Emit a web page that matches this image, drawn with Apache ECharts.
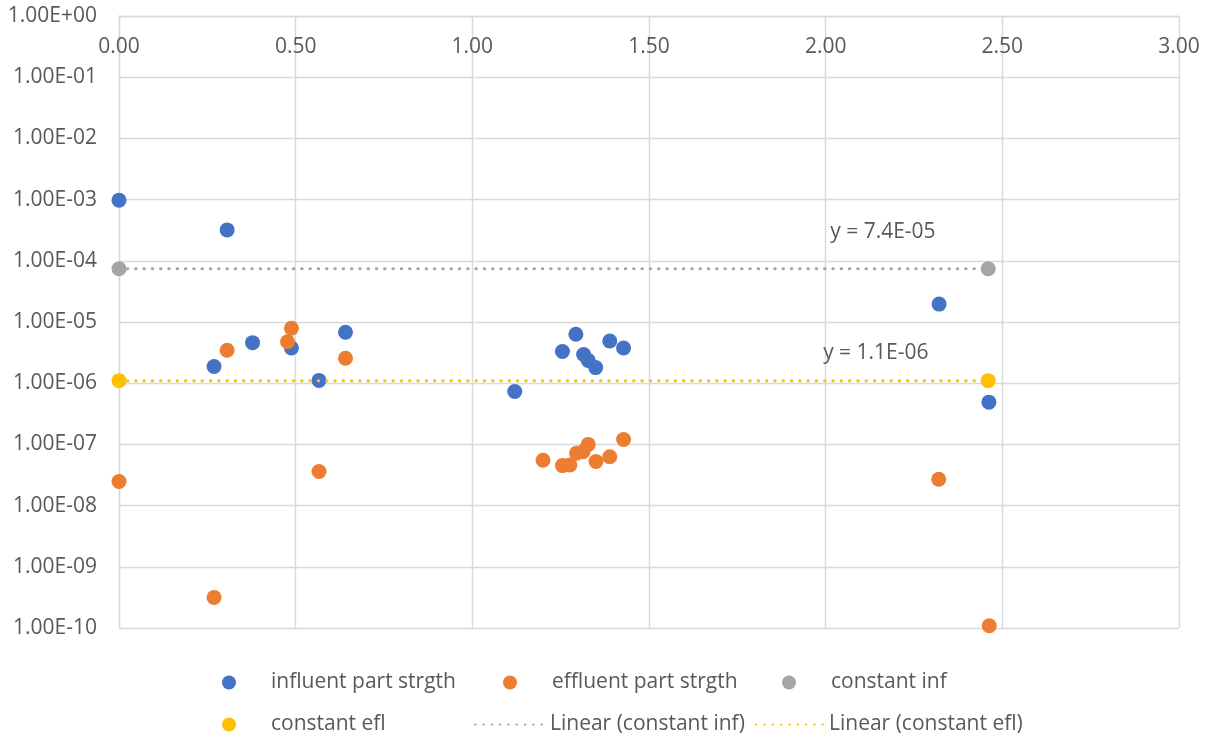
<!DOCTYPE html>
<html>
<head>
<meta charset="utf-8">
<script src="https://cdn.jsdelivr.net/npm/echarts@6/dist/echarts.min.js"></script>
<style>html,body{margin:0;padding:0;background:#fff}#c{width:1213px;height:742px}</style>
</head>
<body>
<div id="c"></div>
<script>
// ---- data ----
const influent = [
  [0.000, 9.8e-4], [0.306, 3.2e-4], [0.269, 1.87e-6], [0.378, 4.6e-6], [0.488, 3.75e-6],
  [0.566, 1.11e-6], [0.641, 6.8e-6], [1.120, 7.3e-7], [1.255, 3.3e-6], [1.293, 6.3e-6],
  [1.315, 2.95e-6], [1.328, 2.36e-6], [1.349, 1.8e-6], [1.389, 4.9e-6], [1.428, 3.75e-6],
  [2.321, 1.96e-5], [2.462, 4.9e-7]
];
const effluent = [
  [0.000, 2.48e-8], [0.269, 3.16e-10], [0.306, 3.45e-6], [0.477, 4.75e-6], [0.488, 7.9e-6],
  [0.566, 3.6e-8], [0.641, 2.55e-6], [1.200, 5.5e-8], [1.255, 4.5e-8], [1.276, 4.6e-8],
  [1.295, 7.2e-8], [1.313, 7.6e-8], [1.328, 1.0e-7], [1.350, 5.25e-8], [1.389, 6.3e-8],
  [1.428, 1.2e-7], [2.320, 2.7e-8], [2.463, 1.09e-10]
];
const constInf = [[0, 7.4e-5], [2.46, 7.4e-5]];
const constEfl = [[0, 1.1e-6], [2.46, 1.1e-6]];
const seriesNames = ['influent part strgth', 'effluent part strgth', 'constant inf', 'constant efl',
  'Linear (constant inf)', 'Linear (constant efl)'];
const trendLabels = ['y = 7.4E-05', 'y = 1.1E-06'];
const trendLabelAt = [[2.162, 2.9e-4], [2.142, 3.08e-6]];
const xTicks = [0, 0.5, 1, 1.5, 2, 2.5, 3];

// ---- chart ----
const FONT = 'Open Sans';
const FS = 21;
const TXT = '#595959';
const GRID = '#D9D9D9';
const colors = ['#4472C4', '#ED7D31', '#A5A5A5', '#FFC000'];

function expFmt(v) {
  const e = Math.round(Math.log10(v));
  const a = Math.abs(e);
  return '1.00E' + (e < 0 ? '-' : '+') + (a < 10 ? '0' + a : '' + a);
}

const chart = echarts.init(document.getElementById('c'), null, {renderer: 'canvas'});
function dotLegend(name, left, top) {
  return {
    data: [{name: name, icon: 'circle'}], left: left, top: top,
    itemWidth: 14, itemHeight: 14, selectedMode: false, padding: 0,
    textStyle: {fontFamily: FONT, fontSize: FS, color: TXT, padding: [0, 0, 0, 30]}
  };
}
function lineLegend(name, left, top, w) {
  return {
    data: [name], left: left, top: top,
    itemWidth: w, itemHeight: 14, selectedMode: false, padding: 0,
    itemStyle: {opacity: 0},
    textStyle: {fontFamily: FONT, fontSize: FS, color: TXT, padding: [0, 0, 0, 0]}
  };
}
const option = {
  animation: false,
  backgroundColor: '#fff',
  textStyle: {fontFamily: FONT},
  grid: {left: 119, right: 34, top: 16, bottom: 114, containLabel: false},
  xAxis: {
    type: 'value', min: xTicks[0], max: xTicks[xTicks.length - 1], interval: 0.5, position: 'top',
    axisLine: {show: true, onZero: false, lineStyle: {color: GRID, width: 1.4}},
    axisTick: {show: false},
    splitLine: {show: true, lineStyle: {color: GRID, width: 1.4}},
    axisLabel: {inside: true, margin: 21, formatter: v => v.toFixed(2), color: TXT, fontSize: FS, fontFamily: FONT}
  },
  yAxis: {
    type: 'log', logBase: 10, min: 1e-10, max: 1, interval: 1,
    axisLine: {show: true, onZero: false, lineStyle: {color: GRID, width: 1.4}},
    axisTick: {show: false},
    splitLine: {show: true, lineStyle: {color: GRID, width: 1.4}},
    axisLabel: {margin: 22, formatter: expFmt, color: TXT, fontSize: FS, fontFamily: FONT}
  },
  legend: [
    dotLegend(seriesNames[0], 222, 672),
    dotLegend(seriesNames[1], 503, 672),
    dotLegend(seriesNames[2], 782, 672),
    dotLegend(seriesNames[3], 222, 714),
    lineLegend(seriesNames[4], 474, 714, 70),
    lineLegend(seriesNames[5], 755, 714, 68)
  ],
  series: [
    {name: seriesNames[0], type: 'scatter', data: influent, symbolSize: 15, itemStyle: {color: colors[0], opacity: 1}},
    {name: seriesNames[1], type: 'scatter', data: effluent, symbolSize: 15, itemStyle: {color: colors[1], opacity: 1}},
    {name: seriesNames[2], type: 'scatter', data: constInf, symbolSize: 15, itemStyle: {color: colors[2], opacity: 1}},
    {name: seriesNames[3], type: 'scatter', data: constEfl, symbolSize: 15, itemStyle: {color: colors[3], opacity: 1}},
    {name: seriesNames[4], type: 'line', data: constInf, symbol: 'none', silent: true,
      lineStyle: {color: colors[2], width: 3, type: [0.5, 7.8], cap: 'round'},
      itemStyle: {color: colors[2]},
      markPoint: {symbol: 'circle', symbolSize: 1, itemStyle: {color: 'rgba(0,0,0,0)'},
        label: {show: true, position: 'inside', formatter: trendLabels[0], color: TXT, fontSize: FS, fontFamily: FONT},
        data: [{coord: trendLabelAt[0]}]}},
    {name: seriesNames[5], type: 'line', data: constEfl, symbol: 'none', silent: true,
      lineStyle: {color: colors[3], width: 3, type: [0.5, 7.8], cap: 'round'},
      itemStyle: {color: colors[3]},
      markPoint: {symbol: 'circle', symbolSize: 1, itemStyle: {color: 'rgba(0,0,0,0)'},
        label: {show: true, position: 'inside', formatter: trendLabels[1], color: TXT, fontSize: FS, fontFamily: FONT},
        data: [{coord: trendLabelAt[1]}]}}
  ]
};
chart.setOption(option);
</script>
</body>
</html>
